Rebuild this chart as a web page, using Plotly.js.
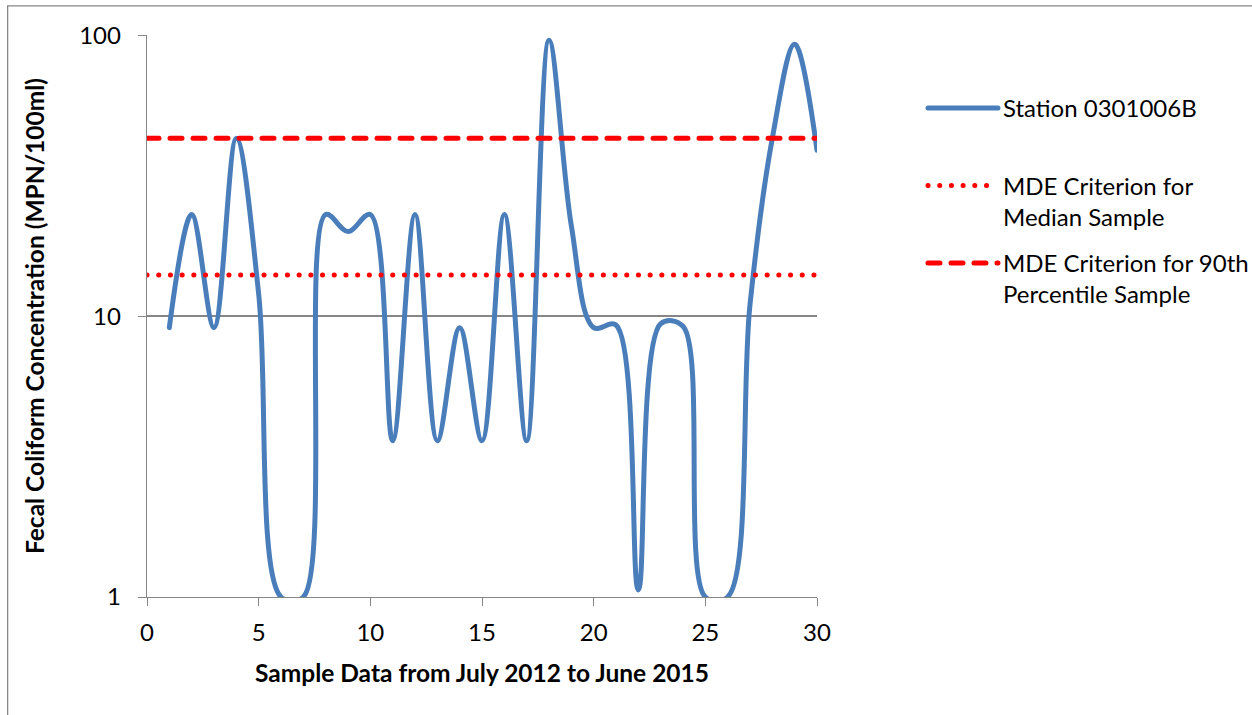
<!DOCTYPE html>
<html>
<head>
<meta charset="utf-8">
<script src="https://cdn.plot.ly/plotly-3.0.1.min.js"></script>
<style>
  html, body { margin: 0; padding: 0; background: #ffffff; }
  #chart { width: 1252px; height: 715px; }
</style>
</head>
<body>
<div id="chart"></div>
<script>
// Sample number (x) and fecal coliform concentration, MPN/100ml (y)
const sampleNumbers = [1, 2, 3, 4, 5, 6, 7, 8, 9, 10, 11, 12, 13, 14, 15,
                       16, 17, 18, 19, 20, 21, 22, 23, 24, 25, 26, 27, 28, 29, 30];
const stationValues = [9.1, 23, 9.1, 43, 12, 1, 1, 23, 20, 23, 3.6, 23, 3.6, 9.1, 3.6,
                       23, 3.6, 96, 21, 9.1, 9.3, 1.06, 9.4, 9.2, 1, 1, 11, 43, 93, 39];
const criterionX = [0, 30];
const medianCriterion = [14, 14];
const pct90Criterion = [43, 43];
const seriesNames = ["Station 0301006B<br>\u00A0", "MDE Criterion for<br>Median Sample", "MDE Criterion for 90th<br>Percentile Sample"];
const xTickVals = [0, 5, 10, 15, 20, 25, 30];
const yTickVals = [1, 10, 100];
const yTickText = ["1", "10", "100"];

const FONT = "Lato, 'Open Sans', sans-serif";
const GRID = "#868686";

const traces = [
  {
    x: sampleNumbers, y: stationValues, name: seriesNames[0],
    type: "scatter", mode: "lines", legendgroup: "a",
    line: { color: "#4A7EBB", width: 5, shape: "spline", smoothing: 1 }
  },
  {
    x: criterionX, y: medianCriterion, name: seriesNames[1],
    type: "scatter", mode: "lines", legendgroup: "b",
    line: { color: "#FF0000", width: 5, dash: "0.1px,11.6px" }
  },
  {
    x: criterionX, y: pct90Criterion, name: seriesNames[2],
    type: "scatter", mode: "lines", legendgroup: "c",
    line: { color: "#FF0000", width: 5, dash: "12px,11px" }
  }
];

const layout = {
  width: 1252, height: 715,
  margin: { l: 147, r: 435, t: 35, b: 118, autoexpand: false },
  paper_bgcolor: "#ffffff", plot_bgcolor: "#ffffff",
  font: { family: FONT, size: 24, color: "#000000" },
  showlegend: true,
  legend: {
    xref: "container", yref: "container",
    x: 0.7372, y: 0.8797, xanchor: "left", yanchor: "top",
    valign: "top", tracegroupgap: 12, itemwidth: 70,
    font: { family: FONT, size: 24, color: "#000000" },
    bgcolor: "rgba(0,0,0,0)"
  },
  xaxis: {
    range: [0, 30], tickvals: xTickVals, ticks: "outside", ticklen: 8, tickcolor: GRID,
    showline: true, linecolor: GRID, linewidth: 1.3, showgrid: false, zeroline: false,
    ticklabelstandoff: 6,
    tickfont: { family: FONT, size: 24, color: "#000000" },
    title: { text: "Sample Data from July 2012 to June 2015", standoff: 19,
             font: { family: FONT, size: 24.5, color: "#000000", weight: "bold" } }
  },
  yaxis: {
    type: "log", range: [0, 2.001], tickvals: yTickVals, ticktext: yTickText,
    ticks: "outside", ticklen: 8, tickcolor: GRID,
    showline: true, linecolor: GRID, linewidth: 1.3,
    showgrid: true, gridcolor: GRID, gridwidth: 1.3, zeroline: false,
    ticklabelstandoff: 12,
    tickfont: { family: FONT, size: 24, color: "#000000" },
    title: { text: "Fecal Coliform Concentration (MPN/100ml)", standoff: 27,
             font: { family: FONT, size: 24.5, color: "#000000", weight: "bold" } }
  },
  shapes: [
    { type: "rect", xref: "paper", yref: "paper", x0: -0.208, x1: 1.9, y0: -0.4, y1: 1.052,
      line: { color: GRID, width: 1.3 }, fillcolor: "rgba(0,0,0,0)", layer: "below" }
  ]
};

Plotly.newPlot("chart", traces, layout, { displayModeBar: false, staticPlot: true }).then(function () {
  document.querySelectorAll("#chart .js-line").forEach(function (p) {
    p.style.strokeLinecap = "round";
  });
});
</script>
</body>
</html>
